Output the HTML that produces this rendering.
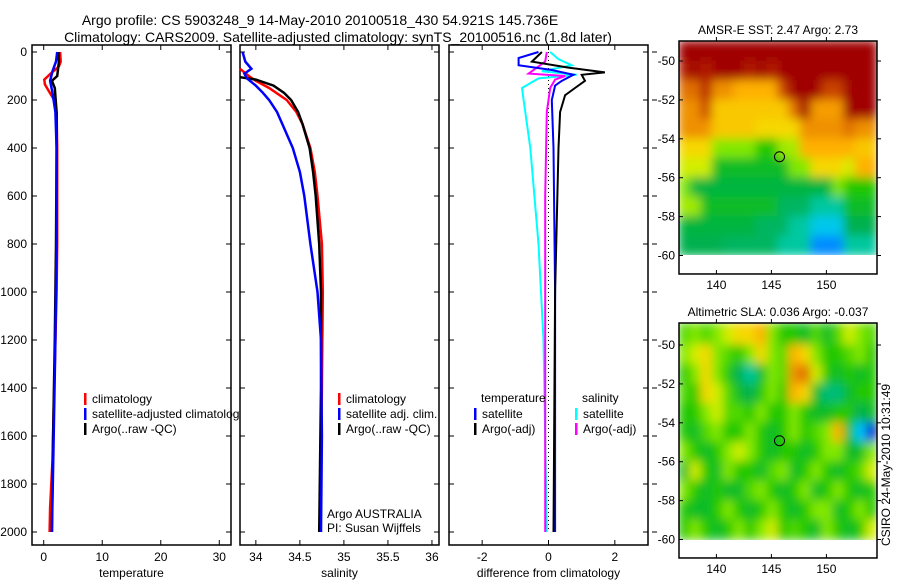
<!DOCTYPE html>
<html><head><meta charset="utf-8"><style>
body{margin:0;background:#fff}
svg{display:block;font-family:"Liberation Sans",sans-serif}
</style></head><body>
<svg id="c" width="900" height="580" viewBox="0 0 900 580">
<defs>
<filter id="bl" x="0" y="0" width="1" height="1"><feGaussianBlur stdDeviation="5" edgeMode="duplicate"/></filter>
<clipPath id="cp1"><rect x="679" y="41" width="198" height="214"/></clipPath>
<clipPath id="cp2"><rect x="679" y="323" width="198" height="217"/></clipPath>
</defs>
<text x="320" y="25" font-size="14" text-anchor="middle">Argo profile: CS 5903248_9 14-May-2010 20100518_430 54.921S 145.736E</text>
<text x="338" y="42" font-size="14" text-anchor="middle">Climatology: CARS2009. Satellite-adjusted climatology: synTS_20100516.nc (1.8d later)</text>
<g id="g"></g>
</svg>
<script>
// ---- data ----
const depthTicks=[0,200,400,600,800,1000,1200,1400,1600,1800,2000];
const tempTicks=[0,10,20,30];
const salTicks=[34,34.5,35,35.5,36];
const salTickLabels=["34","34.5","35","35.5","36"];
const diffTicks=[-2,0,2];
const latTicks=[-50,-52,-54,-56,-58,-60];
const lonTicks=[140,145,150];
// temperature profiles
const tClimZ=[0,40,60,90,115,135,160,200,250,400,800,1000,1400,1700,1900,2000];
const tClimV=[2.8,2.9,2.6,1.2,0.1,0.2,0.8,1.8,2.2,2.3,2.3,2.2,1.8,1.5,1.1,1.0];
const tArgoZ=[0,40,80,100,120,150,250,400,800,1200,1600,2000];
const tArgoV=[2.5,2.6,2.4,2.3,1.4,1.9,2.2,2.2,2.1,1.9,1.6,1.4];
const tSatZ=[0,40,80,120,170,250,400,800,1200,1600,2000];
const tSatV=[2.3,2.1,1.5,1.1,1.5,2.0,2.2,2.2,2.0,1.7,1.4];
// salinity profiles
const sClimZ=[70,100,120,150,200,250,300,400,500,600,800,1000,1400,2000];
const sClimV=[33.82,33.92,34.0,34.15,34.35,34.46,34.53,34.62,34.67,34.70,34.75,34.76,34.75,34.73];
const sArgoZ=[105,115,140,170,200,250,300,400,500,600,800,1000,1400,2000];
const sArgoV=[33.82,34.0,34.2,34.32,34.4,34.48,34.53,34.61,34.65,34.68,34.72,34.74,34.74,34.72];
const sSatZ=[0,40,70,90,110,140,170,200,250,300,400,500,600,800,1000,1200,1600,2000];
const sSatV=[33.85,33.88,33.95,33.87,33.9,34.0,34.08,34.15,34.24,34.3,34.42,34.5,34.55,34.62,34.70,34.74,34.75,34.74];
// differences
const dTSatZ=[0,25,55,75,95,120,140,200,400,1000,2000];
const dTSatV=[-0.3,-0.9,-0.9,0.1,0.75,0.4,0.2,0.1,0.15,0.2,0.2];
const dTArgoZ=[0,40,65,85,95,120,150,180,250,400,1000,2000];
const dTArgoV=[-0.2,-0.5,0.6,1.7,1.0,1.1,0.8,0.5,0.35,0.3,0.2,0.15];
const dSSatZ=[0,30,55,80,95,110,150,200,400,800,1200,2000];
const dSSatV=[0.05,0.3,0.7,-0.2,0.85,-0.3,-0.8,-0.75,-0.55,-0.3,-0.15,-0.05];
const dSArgoZ=[0,40,60,90,100,115,150,250,600,2000];
const dSArgoV=[-0.05,-0.1,-0.3,-0.6,0.5,0.2,0.05,-0.05,-0.1,-0.1];
// maps (rows lat -49..-60, cols lon 136.6..154.6)
const sstGrid=[
[1,1,1,1,1,1,1,1,1,1,1,1,1,1,1,1,1,1],
[.95,1,.95,1,1,1,.95,1,.95,1,1,1,1,1,1,1,1,1],
[.85,.85,.95,.8,.8,.75,.75,.75,.75,.9,1,1,1,.9,.9,1,1,1],
[.8,.8,.9,.72,.72,.72,.72,.72,.72,.72,.85,1,.78,.78,.78,1,1,1],
[.8,.8,.8,.72,.72,.72,.72,.7,.7,.7,.7,.8,.8,.8,.8,.85,.8,.8],
[.7,.7,.7,.6,.6,.6,.6,.5,.5,.62,.62,.75,.75,.75,.75,.75,.72,.72],
[.65,.65,.65,.45,.45,.45,.45,.45,.45,.45,.6,.6,.7,.7,.7,.65,.75,.75],
[.6,.42,.42,.42,.42,.42,.42,.42,.42,.42,.42,.42,.42,.42,.6,.5,.5,.5],
[.62,.62,.45,.45,.45,.45,.45,.45,.45,.38,.38,.38,.3,.3,.3,.45,.45,.45],
[.42,.42,.42,.42,.42,.42,.42,.38,.38,.38,.3,.3,.22,.22,.22,.4,.4,.4],
[.4,.4,.4,.4,.38,.38,.38,.38,.38,.3,.3,.3,.15,.15,.15,.3,.3,.3]];
const slaGrid=[
[.55,.6,.55,.6,.65,.7,.7,.75,.6,.5,.5,.45,.55,.45,.55,.65,.6,.55],
[.6,.65,.7,.6,.55,.5,.6,.7,.6,.55,.75,.7,.6,.5,.5,.55,.6,.5],
[.5,.6,.7,.6,.5,.4,.3,.45,.6,.55,.8,.85,.65,.5,.45,.5,.45,.5],
[.55,.5,.7,.65,.55,.45,.4,.5,.6,.5,.75,.7,.45,.35,.35,.45,.5,.5],
[.5,.5,.6,.65,.55,.55,.5,.6,.5,.5,.6,.5,.45,.45,.5,.5,.4,.45],
[.5,.45,.55,.6,.5,.5,.6,.5,.45,.5,.6,.5,.55,.6,.75,.45,.2,.05],
[.6,.5,.45,.5,.6,.65,.6,.5,.45,.5,.5,.45,.5,.6,.6,.45,.45,.6],
[.45,.65,.5,.45,.6,.5,.5,.45,.55,.6,.45,.5,.6,.5,.45,.5,.55,.65],
[.6,.5,.45,.5,.45,.45,.55,.6,.5,.45,.5,.6,.45,.5,.6,.5,.45,.5],
[.5,.45,.45,.5,.6,.5,.45,.5,.6,.5,.45,.5,.6,.6,.45,.5,.6,.5],
[.5,.6,.5,.45,.5,.6,.5,.6,.65,.5,.55,.5,.45,.6,.5,.45,.5,.65]];
const floatLon=145.736, floatLat=-54.921;

const NS="http://www.w3.org/2000/svg";
const G=document.getElementById('g');
function mk(t,a,p){const e=document.createElementNS(NS,t);for(const k in a)e.setAttribute(k,a[k]);(p||G).appendChild(e);return e;}
function txt(x,y,s,anchor,size,p){const e=mk('text',{x:x,y:y,'font-size':size||12,'text-anchor':anchor||'middle'},p);e.textContent=s;return e;}

const yD=z=>52+z*0.24;
const panels=[{x0:32,x1:231,d0:-2,d1:32},{x0:240,x1:439,d0:33.82,d1:36.08},{x0:449,x1:648,d0:-3,d1:3}];
const PY0=45,PY1=545;
function sx(p,v){return p.x0+(v-p.d0)/(p.d1-p.d0)*(p.x1-p.x0);}

function drawFrame(p,name,ticks,labels,xlabel){
  const f=mk('rect',{x:p.x0,y:PY0,width:p.x1-p.x0,height:PY1-PY0,fill:'#fff',stroke:'#000','stroke-width':1.5});
  
  
  ticks.forEach((t,i)=>{const x=sx(p,t);
    mk('line',{x1:x,y1:PY0,x2:x,y2:PY0+5,stroke:'#000'});
    mk('line',{x1:x,y1:PY1,x2:x,y2:PY1-5,stroke:'#000'});
    const l=txt(x,561,labels[i]);
    
    
  });
  const xl=txt((p.x0+p.x1)/2,577,xlabel);
  
  
}
function line(p,Z,V,col,name,w){
  const pts=Z.map((z,i)=>sx(p,V[i]).toFixed(1)+','+yD(z).toFixed(1)).join(' ');
  const e=mk('polyline',{points:pts,fill:'none',stroke:col,'stroke-width':w||2.5});
  
  
}
function legend(x,y,col,s,name){
  mk('rect',{x:x,y:y-9,width:2.5,height:12,fill:col});
  const t=txt(x+8,y+1,s,'start',12);
  
  
}

// panel 1: temperature
drawFrame(panels[0],'temperature-panel',tempTicks,tempTicks.map(String),'temperature');
depthTicks.forEach(z=>{const y=yD(z);
  mk('line',{x1:32,y1:y,x2:37,y2:y,stroke:'#000'});
  mk('line',{x1:231,y1:y,x2:226,y2:y,stroke:'#000'});
  const l=txt(27,y+4,String(z),'end',12);
  
  
});
line(panels[0],tClimZ,tClimV,'#f00','temperature-climatology-line');
line(panels[0],tArgoZ,tArgoV,'#000','temperature-argo-line');
line(panels[0],tSatZ,tSatV,'#00f','temperature-satellite-line');
legend(84,402,'#f00','climatology','legend-climatology');
legend(84,417,'#00f','satellite-adjusted climatology','legend-satellite-adjusted');
legend(84,432,'#000','Argo(..raw -QC)','legend-argo');

// panel 2: salinity
drawFrame(panels[1],'salinity-panel',salTicks,salTickLabels,'salinity');
depthTicks.forEach(z=>{const y=yD(z);
  mk('line',{x1:240,y1:y,x2:245,y2:y,stroke:'#000'});
  mk('line',{x1:439,y1:y,x2:434,y2:y,stroke:'#000'});});
line(panels[1],sClimZ,sClimV,'#f00','salinity-climatology-line');
line(panels[1],sArgoZ,sArgoV,'#000','salinity-argo-line');
line(panels[1],sSatZ,sSatV,'#00f','salinity-satellite-line');
legend(338,402,'#f00','climatology','legend-sal-climatology');
legend(338,417,'#00f','satellite adj. clim.','legend-sal-satellite');
legend(338,432,'#000','Argo(..raw -QC)','legend-sal-argo');
txt(327,518,'Argo AUSTRALIA','start',12);
txt(327,532,'PI: Susan Wijffels','start',12);

// panel 3: differences
drawFrame(panels[2],'difference-panel',diffTicks,['-2','0','2'],'difference from climatology');
depthTicks.forEach(z=>{const y=yD(z);
  mk('line',{x1:449,y1:y,x2:454,y2:y,stroke:'#000'});
  mk('line',{x1:648,y1:y,x2:643,y2:y,stroke:'#000'});
  mk('line',{x1:652,y1:y,x2:657,y2:y,stroke:'#000'});});
mk('line',{x1:sx(panels[2],0),y1:52,x2:sx(panels[2],0),y2:532,stroke:'#000','stroke-dasharray':'1,3'});
line(panels[2],dSSatZ,dSSatV,'#0ff','diff-salinity-satellite-line',2);
line(panels[2],dSArgoZ,dSArgoV,'#f0f','diff-salinity-argo-line',2);
line(panels[2],dTSatZ,dTSatV,'#00f','diff-temperature-satellite-line',2);
line(panels[2],dTArgoZ,dTArgoV,'#000','diff-temperature-argo-line',2);
txt(481,402,'temperature','start',12);
txt(582,402,'salinity','start',12);
legend(474,417,'#00f','satellite','legend-diff-temp-satellite');
legend(474,432,'#000','Argo(-adj)','legend-diff-temp-argo');
legend(575,417,'#0ff','satellite','legend-diff-sal-satellite');
legend(575,432,'#f0f','Argo(-adj)','legend-diff-sal-argo');

// maps
const cstops=[[0,[0,0,160]],[.1,[0,80,255]],[.2,[0,200,255]],[.3,[0,200,160]],[.4,[0,176,80]],[.5,[32,200,0]],[.6,[130,232,0]],[.67,[240,240,0]],[.75,[255,176,0]],[.85,[224,112,0]],[.92,[192,48,0]],[1,[160,0,0]]];
function cmap(v){for(let i=1;i<cstops.length;i++){if(v<=cstops[i][0]){const a=cstops[i-1],b=cstops[i],t=(v-a[0])/(b[0]-a[0]);return 'rgb('+a[1].map((c,j)=>Math.round(c+(b[1][j]-c)*t)).join(',')+')';}}return 'rgb(160,0,0)';}
function drawMap(grid,top,lat50y,name,title,clip,lonLabelY){
  const m={x0:679,x1:877,lon0:136.6,lon1:154.6};
  const lx=l=>m.x0+(l-m.lon0)/(m.lon1-m.lon0)*(m.x1-m.x0);
  const ly=l=>lat50y+(-50-l)*19.45;
  const bottom=ly(-60.95);
  const t=txt(778,top-7,title,'middle',12);
  
  
  const cg=mk('g',{'clip-path':'url(#'+clip+')'});
  const gg=mk('g',{filter:'url(#bl)'},cg);
  
  
  grid.forEach((row,r)=>row.forEach((v,c)=>{
    const y0=r===0?top:ly(-49-r), y1=ly(-50-r);
    const e=mk('rect',{x:lx(136.6+c)-0.5,y:y0-0.5,width:lx(137.6+c)-lx(136.6+c)+1,height:y1-y0+1,fill:cmap(v)},gg);
    
    
  }));
  const fr=mk('rect',{x:m.x0,y:top,width:m.x1-m.x0,height:bottom-top,fill:'none',stroke:'#000','stroke-width':1.5});
  
  
  latTicks.forEach(l=>{const y=ly(l);
    mk('line',{x1:m.x0,y1:y,x2:m.x0+4,y2:y,stroke:'#000'});
    mk('line',{x1:m.x1,y1:y,x2:m.x1+4,y2:y,stroke:'#000'});
    const e=txt(675,y+4,String(l),'end',12);
    
    });
  lonTicks.forEach(l=>{const x=lx(l);
    mk('line',{x1:x,y1:top,x2:x,y2:top-4,stroke:'#000'});
    mk('line',{x1:x,y1:bottom,x2:x,y2:bottom-4,stroke:'#000'});
    const e=txt(x,lonLabelY,String(l),'middle',12);
    
    });
  const c=mk('circle',{cx:lx(floatLon),cy:ly(floatLat),r:5,fill:'none',stroke:'#000','stroke-width':1});
  
  
}
drawMap(sstGrid,41,61,'sst-map','AMSR-E SST: 2.47  Argo: 2.73','cp1',289);
drawMap(slaGrid,323,345,'sla-map','Altimetric SLA: 0.036  Argo: -0.037','cp2',573);
const st=mk('text',{x:0,y:0,'font-size':12,'text-anchor':'start',transform:'translate(890,546) rotate(-90)'});
st.textContent='CSIRO 24-May-2010 10:31:49';


</script>
</body></html>
